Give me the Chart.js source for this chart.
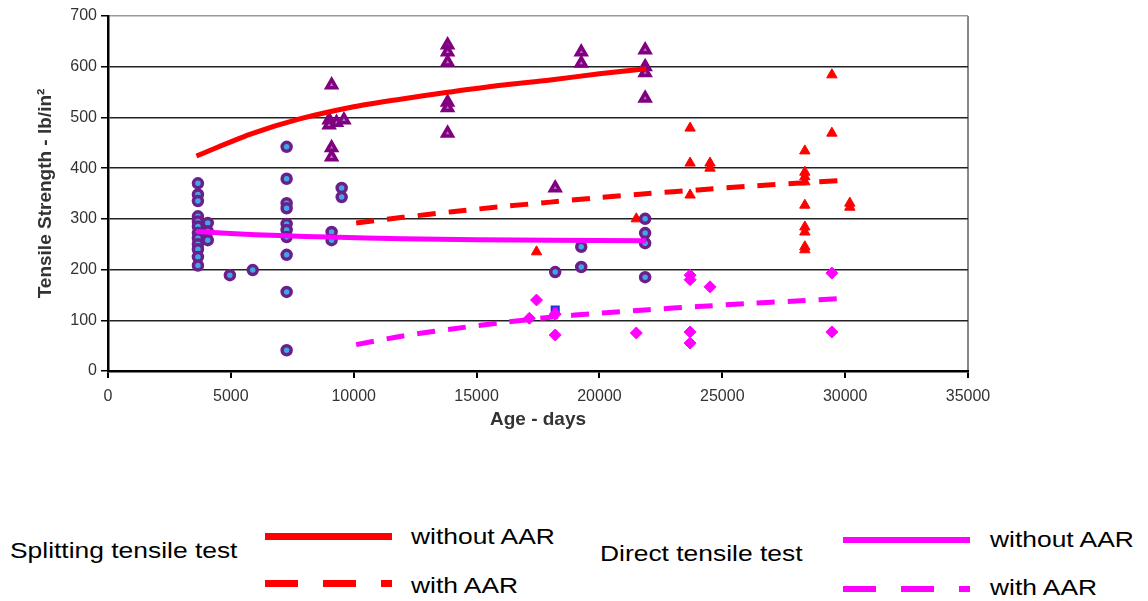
<!DOCTYPE html>
<html>
<head>
<meta charset="utf-8">
<script src="https://cdn.jsdelivr.net/npm/chart.js@4"></script>
<style>
  body { margin: 0; background: #fff; width: 1148px; height: 601px; position: relative; overflow: hidden; font-family: "Liberation Sans", Arial, sans-serif; }
  #wrap { position: absolute; left: 0; top: 0; width: 1148px; height: 440px; }
  .lt { position: absolute; font-size: 22px; line-height: 22px; color: #000; white-space: nowrap; transform: scaleX(1.2); transform-origin: left top; }
  .ln { position: absolute; width: 127px; height: 7px; }
</style>
</head>
<body>
<div id="wrap"><canvas id="myChart" width="1148" height="440"></canvas></div>

<!-- legend below the chart -->
<div class="lt" style="left:10px; top:540px;">Splitting tensile test</div>
<div class="ln" style="left:265px; top:533px; background:#ff0000;"></div>
<div class="lt" style="left:411px; top:526px;">without AAR</div>
<div class="ln" style="left:265px; top:580px; background:repeating-linear-gradient(to right,#ff0000 0 33px,transparent 33px 58px);"></div>
<div class="lt" style="left:411px; top:575px;">with AAR</div>

<div class="lt" style="left:600px; top:543px;">Direct tensile test</div>
<div class="ln" style="left:843px; top:537px; height:6px; background:#ff00ff;"></div>
<div class="lt" style="left:990px; top:529px;">without AAR</div>
<div class="ln" style="left:843px; top:586px; height:6px; background:repeating-linear-gradient(to right,#ff00ff 0 33px,transparent 33px 58px);"></div>
<div class="lt" style="left:990px; top:577px;">with AAR</div>

<script>
// axis ticks
const xTicks = [0, 5000, 10000, 15000, 20000, 25000, 30000, 35000];
const yTicks = [0, 100, 200, 300, 400, 500, 600, 700];

// purple circles
const circleDays = [3660, 3660, 3660, 3660, 3660, 3660, 3660, 3660, 3660, 3660, 3660, 3660,
  4060, 4060, 4060, 4960, 5890,
  7270, 7270, 7270, 7270, 7270, 7270, 7270, 7270, 7270, 7270,
  9100, 9100, 9510, 9510, 18200, 19260, 19260, 21860, 21860, 21860, 21860];
const circleVals = [370, 348, 335, 305, 295, 285, 272, 262, 250, 240, 225, 208,
  292, 275, 258, 189, 199,
  442, 379, 331, 321, 290, 278, 264, 229, 156, 41,
  274, 258, 361, 343, 195, 245, 205, 300, 272, 252, 185];

// purple triangles
const purpleTriDays = [9100, 9000, 9300, 9600, 9000, 9100, 9100,
  13820, 13820, 13820, 13820, 13820, 13820, 18200, 19260, 19260, 21860, 21860, 21860, 21860];
const purpleTriVals = [564, 495, 490, 495, 485, 440, 422,
  643, 629, 609, 530, 519, 469, 361, 629, 607, 633, 600, 588, 538];

// red triangles
const redTriDays = [17440, 21500, 23690, 23690, 23690, 24500, 24500,
  28360, 28360, 28360, 28360, 28360, 28360, 28360, 28360, 28360, 29460, 29460, 30190, 30190];
const redTriVals = [235, 300, 479, 410, 347, 410, 400,
  434, 392, 383, 373, 327, 284, 274, 245, 239, 584, 469, 331, 323];

// magenta diamonds
const magDays = [17150, 17440, 18200, 18200, 21500, 23690, 23690, 23690, 23690, 24500, 29460, 29460];
const magVals = [104, 140, 112, 71, 75, 189, 180, 77, 55, 166, 193, 77];

const blueDays = [18200];
const blueVals = [120];

// trend lines
const splitNoAarDays = [3600, 5800, 7800, 10000, 11900, 13900, 15900, 18000, 20000, 21900];
const splitNoAarVals = [424, 467, 497, 521, 536, 550, 563, 574, 586, 596];
const splitAarDays = [10100, 12000, 14000, 16000, 18000, 20000, 22000, 24000, 26000, 28000, 29900];
const splitAarVals = [292, 303, 314, 324, 333, 342, 350, 357, 364, 370, 376];
const directNoAarDays = [3600, 5000, 7000, 9000, 12000, 15000, 18000, 21900];
const directNoAarVals = [275, 271, 267, 264, 261, 259, 258, 257];
const directAarDays = [10100, 12000, 14000, 16000, 18000, 20000, 22000, 24000, 26000, 28000, 29900];
const directAarVals = [52, 69, 83, 95, 106, 114, 121, 127, 133, 138, 143];

function pts(xs, ys) {
  return xs.map((x, i) => ({ x: x, y: ys[i] }));
}

function lineSet(xs, ys, color, dashed) {
  return {
    data: pts(xs, ys),
    showLine: true,
    borderColor: color,
    borderWidth: 5,
    borderDash: dashed ? [18, 13] : [],
    pointRadius: 0,
    tension: 0.3,
    order: 0,
  };
}

function markSet(xs, ys, style, radius, bg, border, bw) {
  return {
    data: pts(xs, ys),
    showLine: false,
    pointStyle: style,
    pointRadius: radius,
    backgroundColor: bg,
    borderColor: border,
    borderWidth: bw,
    order: 1,
  };
}

const tickFont = { family: "'Liberation Sans', Arial, sans-serif", size: 16 };
const titleFont = { family: "'Liberation Sans', Arial, sans-serif", size: 19, weight: "bold" };

new Chart(document.getElementById("myChart"), {
  type: "scatter",
  data: {
    datasets: [
      lineSet(splitNoAarDays, splitNoAarVals, "#ff0000", false),
      lineSet(splitAarDays, splitAarVals, "#ff0000", true),
      lineSet(directNoAarDays, directNoAarVals, "#ff00ff", false),
      lineSet(directAarDays, directAarVals, "#ff00ff", true),
      markSet(circleDays, circleVals, "circle", 4.5, "#40a8e0", "#6a1f8c", 3.5),
      markSet(purpleTriDays, purpleTriVals, "triangle", 5.5, "#b070c0", "#800080", 3.5),
      markSet(redTriDays, redTriVals, "triangle", 6, "#ff0000", "#ff0000", 1),
      markSet(magDays, magVals, "rectRot", 6, "#ff00ff", "#ff00ff", 1),
      markSet(blueDays, blueVals, "rect", 5, "#ff00ff", "#2030e0", 2),
    ],
  },
  options: {
    responsive: false,
    animation: false,
    layout: { padding: { left: 0, right: 180, top: 16, bottom: 0 } },
    plugins: { legend: { display: false }, tooltip: { enabled: false } },
    scales: {
      x: {
        type: "linear",
        min: 0,
        max: 35000,
        afterBuildTicks: (s) => { s.ticks = xTicks.map((v) => ({ value: v })); },
        afterFit: (s) => { s.height = 69; },
        ticks: { color: "#333", font: tickFont, padding: 9, maxRotation: 0, callback: (v) => String(v) },
        grid: {
          drawOnChartArea: true,
          color: (c) => (c.tick && c.tick.value === 35000 ? "#888" : "rgba(0,0,0,0)"),
          tickColor: "#000",
          tickLength: 7,
          lineWidth: 2,
        },
        border: { display: true, color: "#000", width: 2.5 },
        title: { display: true, text: "Age - days", color: "#333", font: titleFont, padding: { top: 0, bottom: 9 } },
      },
      y: {
        min: 0,
        max: 700,
        afterBuildTicks: (s) => { s.ticks = yTicks.map((v) => ({ value: v })); },
        afterFit: (s) => { s.width = 108; },
        ticks: { color: "#333", font: tickFont, padding: 4, callback: (v) => String(v) },
        grid: {
          color: (c) => (c.tick && c.tick.value === 700 ? "#999" : "#222"),
          tickColor: "#000",
          tickLength: 7,
          lineWidth: 1.5,
        },
        border: { display: true, color: "#000", width: 2.5 },
        title: { display: true, text: "Tensile Strength - lb/in²", color: "#333", font: titleFont, padding: { top: 34, bottom: 0 } },
      },
    },
  },
});
</script>
</body>
</html>
